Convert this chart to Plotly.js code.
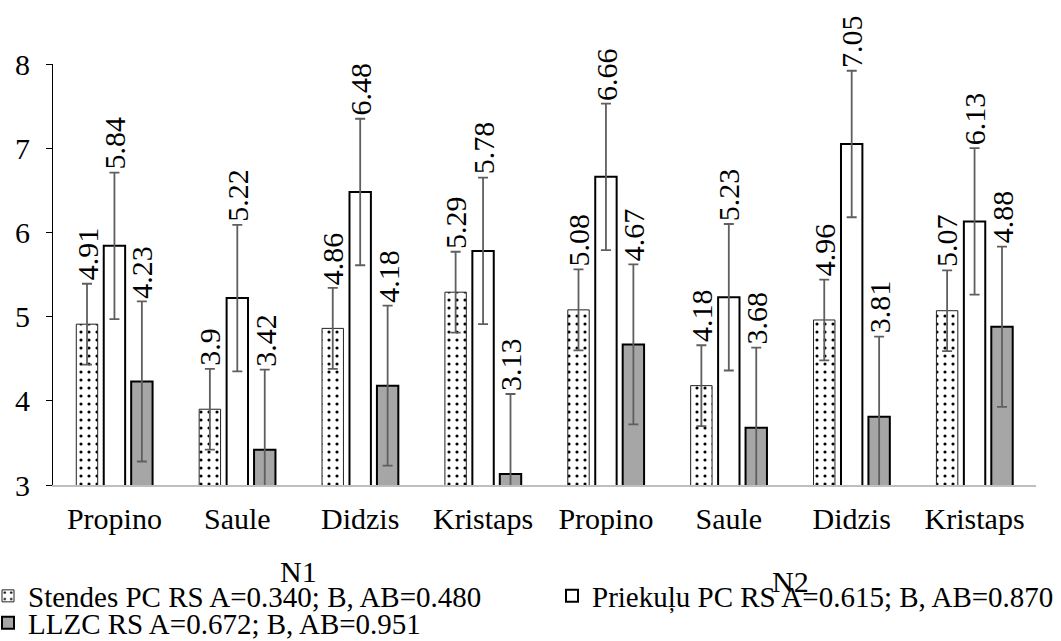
<!DOCTYPE html>
<html>
<head>
<meta charset="utf-8">
<script src="https://cdn.plot.ly/plotly-3.0.1.min.js"></script>
<style>html,body{margin:0;padding:0;background:#fff;}#chart{width:1061px;height:641px;}</style>
</head>
<body>
<div id="chart"></div>
<script>
// ---- data ----
const groups = ["N1", "N2"];
const varieties = ["Propino", "Saule", "Didzis", "Kristaps"];
const seriesNames = [
  "Stendes PC RS A=0.340; B, AB=0.480",
  "Priekuļu PC RS A=0.615; B, AB=0.870",
  "LLZC RS A=0.672; B, AB=0.951"
];
const stendes  = [4.91, 3.9, 4.86, 5.29, 5.08, 4.18, 4.96, 5.07];
const priekulu = [5.84, 5.22, 6.48, 5.78, 6.66, 5.23, 7.05, 6.13];
const llzc     = [4.23, 3.42, 4.18, 3.13, 4.67, 3.68, 3.81, 4.88];
const errors   = [0.48, 0.87, 0.951];
const yTicks   = [3, 4, 5, 6, 7, 8];

// ---- build ----
const cats = [];
groups.forEach(g => varieties.forEach(v => cats.push(v)));
const xIdx = cats.map((_, i) => i);
const values = [stendes, priekulu, llzc];

const FONT = "Times New Roman, Liberation Serif, serif";
const W = 1061, H = 641;
const BARGAP = 0.33, GROUPGAP = 0.22;
const slot = (1 - BARGAP) / 3;

const styles = [
  {color: "white", line: {color: "#222", width: 1}, pattern: {shape: ".", fgcolor: "black", bgcolor: "white", size: 8, solidity: 0.12}},
  {color: "white", line: {color: "black", width: 2}},
  {color: "#a6a6a6", line: {color: "black", width: 2}}
];
const legendIds = ["legend", "legend2", "legend3"];

const traces = values.map((vals, k) => ({
  type: "bar",
  x: xIdx,
  y: vals,
  name: seriesNames[k],
  marker: styles[k],
  error_y: {type: "constant", value: errors[k], color: "#5f5f5f", thickness: 1.8, width: 5},
  legend: legendIds[k],
  hoverinfo: "skip"
}));

const annotations = [];
values.forEach((vals, k) => {
  vals.forEach((v, i) => {
    annotations.push({
      x: i + (k - 1) * slot, xref: "x",
      y: v + errors[k], yref: "y",
      text: String(v), showarrow: false, textangle: -90,
      xanchor: "center", yanchor: "bottom", yshift: 1,
      font: {family: FONT, size: 30, color: "black"}
    });
  });
});
// group labels
groups.forEach((g, gi) => {
  annotations.push({
    x: gi * varieties.length + (varieties.length - 1) / 2, xref: "x",
    y: 0, yref: "paper", yanchor: "middle",
    yshift: gi === 0 ? -86 : -96,
    text: g, showarrow: false,
    font: {family: FONT, size: 30, color: "black"}
  });
});

// group dividers
const shapes = [];
for (let gi = 0; gi <= groups.length; gi++) {
  shapes.push({
    type: "line", xref: "x", yref: "y",
    x0: gi * varieties.length - 0.5, x1: gi * varieties.length - 0.5,
    ysizemode: "pixel", yanchor: 3, y0: 0, y1: -103,
    line: {color: "#bfbfbf", width: 1.5}
  });
}

function legendAt(px, py) {
  return {
    orientation: "h", xref: "container", yref: "container",
    x: px / W, xanchor: "left", y: 1 - py / H, yanchor: "middle",
    itemwidth: 30, indentation: -12, bgcolor: "rgba(0,0,0,0)", borderwidth: 0,
    font: {family: FONT, size: 29, color: "black"}
  };
}

const layout = {
  width: W, height: H,
  margin: {l: 53, r: 25, t: 64, b: 156},
  paper_bgcolor: "white", plot_bgcolor: "white",
  barmode: "group", bargap: BARGAP, bargroupgap: GROUPGAP,
  showlegend: true,
  xaxis: {
    tickmode: "array", tickvals: xIdx, ticktext: cats,
    range: [-0.5, cats.length - 0.5],
    showline: true, linecolor: "#bfbfbf", linewidth: 1.5,
    ticks: "", showgrid: false, zeroline: false,
    ticklabelstandoff: 6,
    tickfont: {family: FONT, size: 30, color: "black"}
  },
  yaxis: {
    range: [3, 8], tickvals: yTicks, ticktext: yTicks.map(String),
    showline: true, linecolor: "black", linewidth: 1,
    ticks: "outside", ticklen: 6, tickcolor: "black",
    showgrid: false, zeroline: false,
    ticklabelstandoff: 10,
    tickfont: {family: FONT, size: 30, color: "black"}
  },
  legend: legendAt(0, 596),
  legend2: legendAt(564, 596),
  legend3: legendAt(0, 623),
  annotations: annotations,
  shapes: shapes
};

Plotly.newPlot("chart", traces, layout, {displayModeBar: false, staticPlot: true});
</script>
</body>
</html>
